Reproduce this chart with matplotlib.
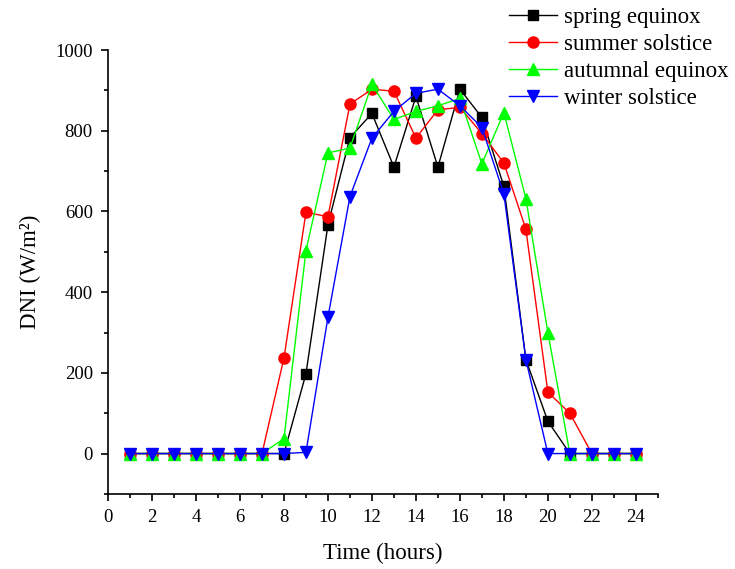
import numpy as np
import matplotlib.pyplot as plt
from matplotlib.ticker import MultipleLocator

hours = list(range(1, 25))

spring = [0, 0, 0, 0, 0, 0, 0, 0, 198, 567, 783, 843, 710, 885, 710, 903,
          833, 662, 233, 80, 0, 0, 0, 0]
summer = [0, 0, 0, 0, 0, 0, 0, 237, 598, 587, 866, 903, 898, 782, 852, 858,
          793, 720, 556, 152, 100, 0, 0, 0]
autumn = [0, 0, 0, 0, 0, 0, 0, 37, 503, 745, 757, 915, 828, 848, 862, 880,
          718, 845, 632, 300, 0, 0, 0, 0]
winter = [0, 0, 0, 0, 0, 0, 0, 0, 3, 338, 637, 782, 848, 893, 903, 862,
          808, 643, 233, 0, 0, 0, 0, 0]

plt.rcParams['font.family'] = ['Liberation Serif', 'DejaVu Serif']

fig = plt.figure(figsize=(7.35, 5.69), dpi=100)
ax = fig.add_axes([0.147, 0.132, 0.748, 0.78])

ax.plot(hours, spring, color="black", marker="s", markersize=7, lw=1, label="spring equinox")
ax.plot(hours, summer, color="red", marker="o", markersize=8, lw=1, label="summer solstice")
ax.plot(hours, autumn, color="#00ff00", marker="^", markersize=8.5, lw=1, label="autumnal equinox")
ax.plot(hours, winter, color="blue", marker="v", markersize=8.5, lw=1, label="winter solstice")

ax.set_xlim(0, 25)
ax.set_ylim(-100, 1000)
ax.set_xticks(range(0, 25, 2))
ax.set_yticks(range(0, 1001, 200))
ax.xaxis.set_minor_locator(MultipleLocator(1))
ax.yaxis.set_minor_locator(MultipleLocator(100))
ax.tick_params(which="major", direction="out", length=5, width=1.2, labelsize=13.5, pad=6)
ax.tick_params(which="minor", direction="out", length=3, width=1.2)
ax.spines["top"].set_visible(False)
ax.spines["right"].set_visible(False)
ax.spines["left"].set_linewidth(1.2)
ax.spines["bottom"].set_linewidth(1.2)

ax.set_xlabel("Time (hours)", fontsize=16.5, labelpad=12)
ax.set_ylabel("DNI (W/m²)", fontsize=16.5, labelpad=10)

fig.legend(loc="upper left", bbox_to_anchor=(0.692, 0.988), frameon=False, fontsize=16.5,
           handlelength=2.1, labelspacing=0.26, handletextpad=0.3,
           borderpad=0, borderaxespad=0)

fig.savefig("out.png")
